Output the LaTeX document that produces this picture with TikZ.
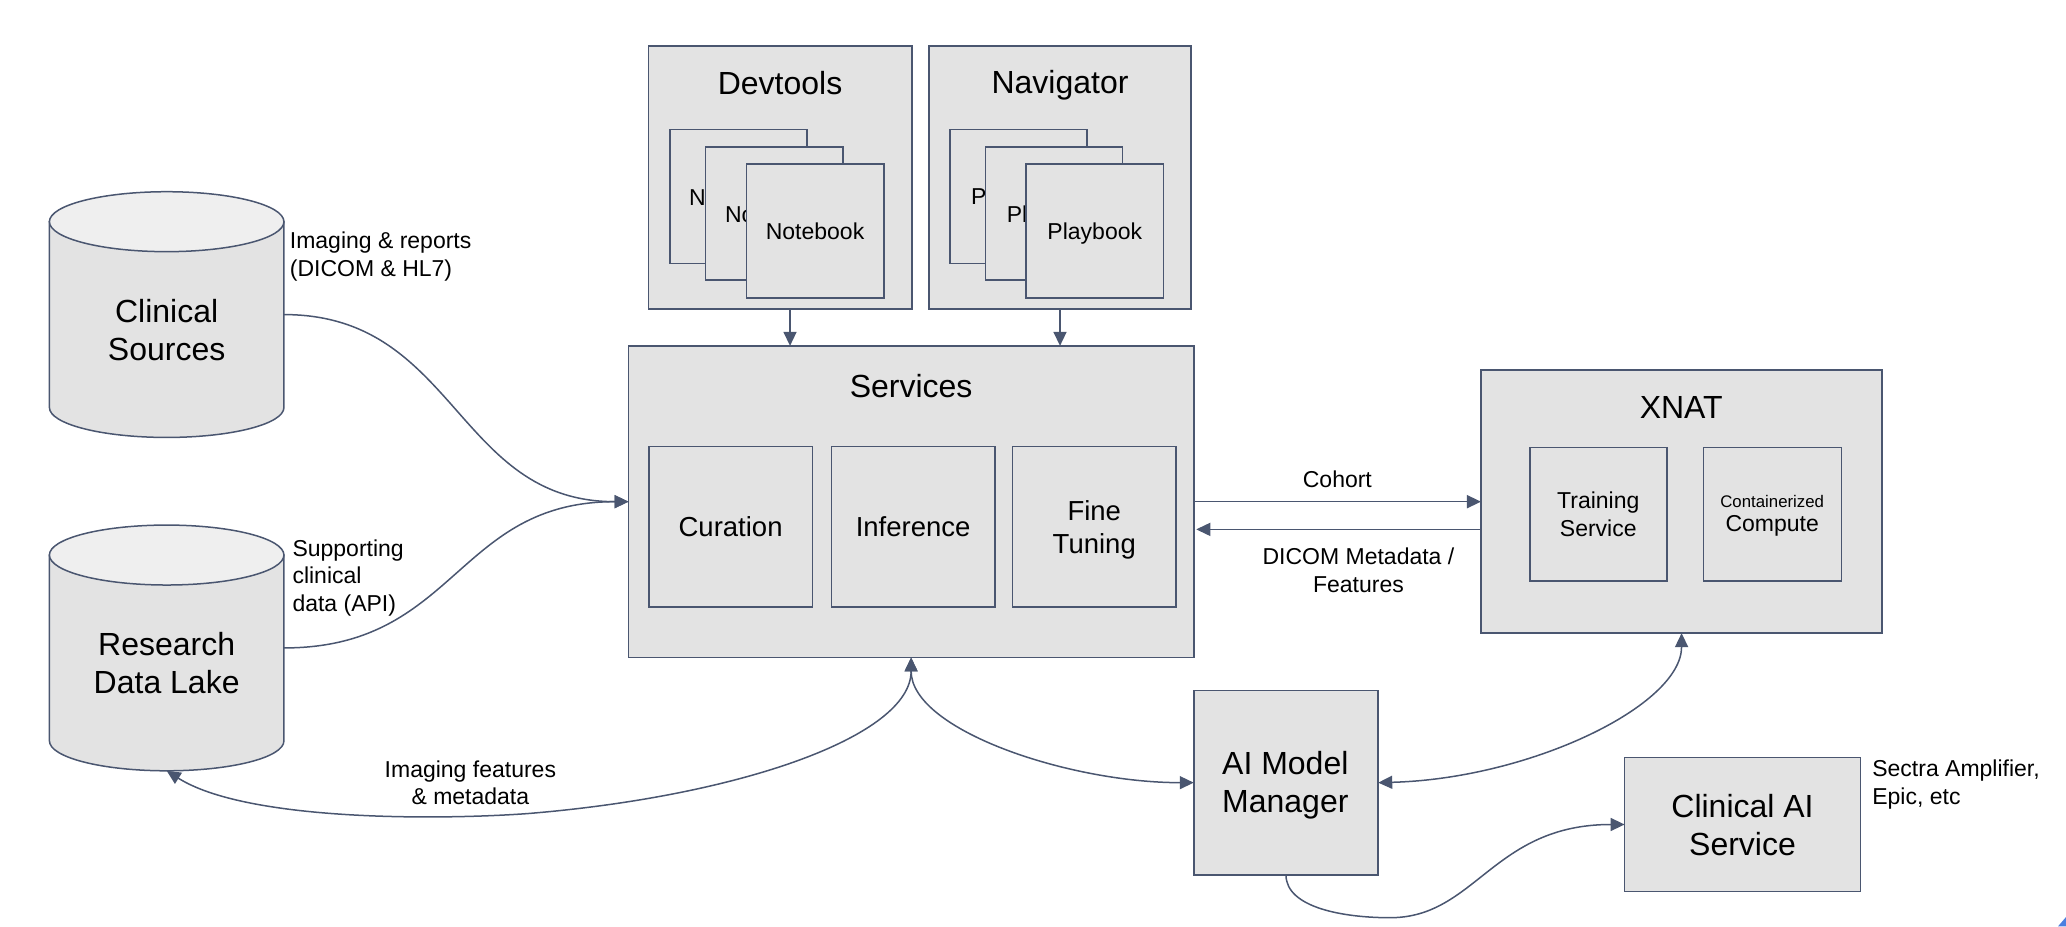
\documentclass[tikz,border=0pt]{standalone}
\usepackage{fontspec}
\setmainfont{Liberation Sans}
\usetikzlibrary{arrows.meta}
\definecolor{edgecol}{HTML}{4A5670}
\definecolor{boxfill}{HTML}{E3E3E3}
\definecolor{topfill}{HTML}{EFEFEF}
\definecolor{cornerblue}{HTML}{4A7FE0}
\newcommand{\fsA}{\fontsize{32}{38}\selectfont}
\newcommand{\fsB}{\fontsize{27.5}{33}\selectfont}
\newcommand{\fsC}{\fontsize{23}{27.6}\selectfont}
\newcommand{\fsD}{\fontsize{16.8}{20}\selectfont}
\newcommand{\bx}[7][]{%
  \node[boxnode,#1,minimum width={(#5-#3)*1.3176pt},minimum height={(#6-#4)*1.3176pt}]
    (#2) at ({(#3+#5)/2},{(#4+#6)/2}) {};}
\newcommand{\cyl}[3]{% name, y top, y bottom
  \path[draw=edgecol,line width=1.5pt,fill=boxfill]
    (37.5,{#2+22.75}) -- (37.5,{#3-22.75})
    arc[start angle=180,end angle=0,x radius=89,y radius=22.75]
    -- (215.5,{#2+22.75}) -- cycle;
  \path[draw=edgecol,line width=1.5pt,fill=topfill]
    (126.5,{#2+22.75}) ellipse[x radius=89,y radius=22.75];
  \node[inner sep=0pt,outer sep=0pt,minimum width={178*1.3176pt},minimum height={(#3-#2)*1.3176pt}]
    (#1) at (126.5,{(#2+#3)/2}) {};}
\tikzset{
  boxnode/.style={draw=edgecol,line width=1.5pt,fill=boxfill,inner sep=0pt,outer sep=0pt,align=center,text=black},
  lab/.style={inner sep=0pt,outer sep=0pt,font=\fsC,text=black},
  titlelab/.style={inner sep=0pt,outer sep=0pt,font=\fsA,text=black,align=center},
  cardlab/.style={inner sep=0pt,outer sep=0pt,font=\fsC,text=black,align=center},
  midlab/.style={inner sep=0pt,outer sep=0pt,font=\fsB,text=black,align=center},
  conn/.style={draw=edgecol,line width=1.5pt},
  tip/.style={-{Triangle[length=14pt,width=13pt]}},
  bothtip/.style={{Triangle[length=14pt,width=13pt]}-{Triangle[length=14pt,width=13pt]}},
}
\begin{document}
\begin{tikzpicture}[x=1.3176pt,y=-1.3176pt]
\path[use as bounding box] (0,0) rectangle (2066pt,-926pt);
\fill[cornerblue] (1562,703) -- (1568,696) -- (1568,703) -- cycle;

% cylinders
\cyl{clin}{145.5}{332}
\node[titlelab] (clint) at (126.5,250.5) {Clinical\\Sources};
\cyl{rdl}{398.5}{585}
\node[titlelab] (rdlt) at (126.5,503.5) {Research\\Data Lake};

% top panels
\bx{dev}{492}{35}{692}{234.5}{}
\node[titlelab] (devt) at (592,63) {Devtools};
\bx{na}{508.5}{98.4}{612.3}{199.8}{}
\node[cardlab] (nat) at (560.4,149.5) {Notebook};
\bx{nb}{535.5}{111.6}{639.7}{212.6}{}
\node[cardlab] (nbt) at (587.6,162.5) {Notebook};
\bx{nc}{566.4}{124.5}{670.8}{226}{}
\node[cardlab] (nct) at (618.6,175.5) {Notebook};
\bx{nav}{705}{35}{904}{234.5}{}
\node[titlelab] (navt) at (804.5,65) {Navigator};
\bx{pa}{721}{98.4}{824.8}{199.8}{}
\node[cardlab] (pat) at (772.9,151) {Playbook};
\bx{pb}{748}{111.6}{852}{212.6}{}
\node[cardlab] (pbt) at (800,164) {Playbook};
\bx{pc}{778.8}{124.5}{883}{226}{}
\node[cardlab] (pct) at (830.9,177) {Playbook};

% services
\bx{serv}{477}{262.5}{906}{499}{}
\node[titlelab] (servt) at (691.5,293) {Services};
\bx{cur}{492.5}{339}{616.5}{460.5}{}
\node[midlab] (curt) at (554.5,400) {Curation};
\bx{inf}{631}{339}{755}{460.5}{}
\node[midlab] (inft) at (693,400) {Inference};
\bx{fine}{768.5}{339}{892.5}{460.5}{}
\node[midlab] (finet) at (830.5,402.5) {Fine\\Tuning};

% XNAT
\bx{xnat}{1124}{281}{1428.5}{480.5}{}
\node[titlelab] (xnatt) at (1276,309) {XNAT};
\bx{train}{1161}{339.5}{1265}{441}{}
\node[cardlab] (traint) at (1213,390.5) {Training\\Service};
\bx{comp}{1293}{339.5}{1397.5}{441}{}
\node[cardlab] (compt) at (1345,391.5) {{\fsD Containerized}\\[-3pt]Compute};

% managers
\bx{ai}{906}{524}{1046}{664}{}
\node[titlelab] (ait) at (975.5,596) {AI Model\\Manager};
\bx{cai}{1233}{575}{1412}{676.5}{}
\node[titlelab] (cait) at (1322.5,626) {Clinical AI\\Service};

% labels
\node[lab,anchor=west,align=left] (l1) at (220,194.5) {Imaging \& reports\\(DICOM \& HL7)};
\node[lab,anchor=west,align=left] (l2) at (222,438.5) {Supporting\\clinical\\data (API)};
\node[lab,align=center] (l3) at (357,594) {Imaging features\\\& metadata};
\node[lab] (l4) at (1015,364) {Cohort};
\node[lab,align=center] (l5) at (1031,433) {DICOM Metadata /\\Features};
\node[lab,anchor=west,align=left] (l6) at (1421,595.5) {Sectra Amplifier,\\Epic, etc};

% connectors
\draw[conn,tip] (clin.east) .. controls +(131,0) and +(-131,0) .. (serv.west);
\draw[conn,tip] (rdl.east) .. controls +(131,0) and +(-131,0) .. (serv.west);
\draw[conn,tip] ([xshift=10pt]dev.south) -- ([xshift=10pt]dev.south |- serv.north);
\draw[conn,tip] (nav.south) -- (nav.south |- serv.north);
\draw[conn,tip] (serv.east) -- (xnat.west);
\draw[conn,tip] ([yshift=-27.7pt]xnat.west) -- ([xshift=2.5pt,yshift=-27.7pt]serv.east);
\coordinate (m1) at (400,617.5);
\draw[conn,bothtip] (serv.south) .. controls +(0,60) and +(160,-13) .. (m1)
  .. controls +(-70,5) and +(60,38) .. (rdl.south);
\draw[conn,bothtip] (serv.south) .. controls +(0,55) and +(-95,0) .. (ai.west);
\draw[conn,bothtip] (ai.east) .. controls +(115,-3) and +(0,55) .. (xnat.south);
\coordinate (m2) at (1055,696.5);
\draw[conn,tip] (ai.south) .. controls +(0,25) and +(-35,0) .. (m2)
  .. controls +(65,0) and +(-100,0) .. (cai.west);
\end{tikzpicture}
\end{document}
